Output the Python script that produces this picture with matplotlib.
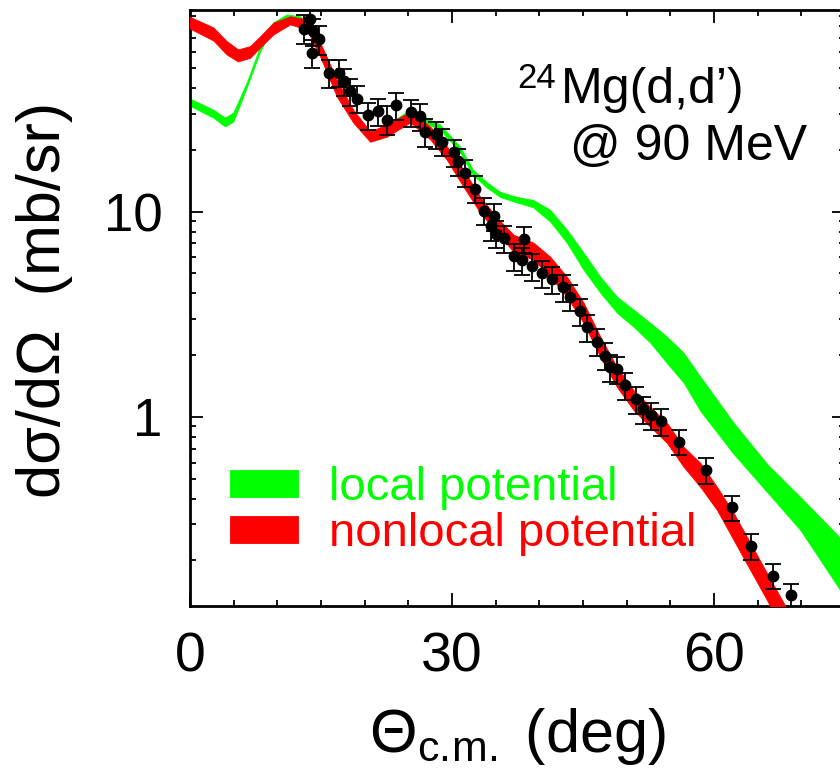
import matplotlib
matplotlib.use("Agg")
import matplotlib.pyplot as plt
from matplotlib import font_manager
import numpy as np

_names = {f.name for f in font_manager.fontManager.ttflist}
NARROW = 'Liberation Sans Narrow' if 'Liberation Sans Narrow' in _names else 'Liberation Sans'
HAVE_NARROW = NARROW == 'Liberation Sans Narrow'

plt.rcParams['font.family'] = ['Liberation Sans', 'DejaVu Sans']
plt.rcParams['mathtext.fontset'] = 'custom'
plt.rcParams['mathtext.rm'] = NARROW
plt.rcParams['mathtext.it'] = NARROW + ':italic'

# ---- experimental data ----
theta_exp = [13.1, 13.75, 14.0, 14.06, 14.8, 15.9, 17.1, 17.6, 18.3, 19.1,
             20.4, 21.5, 22.5, 23.6, 25.3, 26.3, 26.9, 28.2, 28.9, 30.2,
             30.7, 31.5, 32.6, 33.7, 34.5, 34.8, 35.0, 35.9, 37.05, 38.0,
             38.2, 39.15, 40.3, 41.4, 42.7, 43.5, 44.6, 45.5, 46.6, 47.55,
             48.1, 48.9, 49.8, 51.1, 51.85, 52.8, 53.9, 56.0, 59.1, 62.1,
             64.2, 66.8, 68.8]
xs_exp = [77.9, 87.1, 59.4, 75.8, 69.0, 47.5, 47.5, 43.2, 38.6, 35.5,
          29.5, 30.9, 28.1, 32.9, 30.5, 29.2, 24.5, 23.8, 21.9, 19.5,
          17.6, 15.5, 12.9, 10.1, 8.48, 9.49, 7.81, 7.42, 6.05, 5.79,
          7.36, 5.41, 5.02, 4.69, 4.29, 3.84, 3.28, 2.74, 2.33, 1.99,
          1.75, 1.71, 1.43, 1.22, 1.09, 1.02, 0.951, 0.758, 0.551, 0.363,
          0.235, 0.168, 0.135]
rel_err = [0.16, 0.15, 0.16, 0.15, 0.16, 0.16, 0.15, 0.15, 0.15, 0.15,
           0.15, 0.15, 0.16, 0.15, 0.15, 0.15, 0.16, 0.15, 0.15, 0.15,
           0.15, 0.15, 0.15, 0.15, 0.15, 0.15, 0.15, 0.15, 0.15, 0.15,
           0.15, 0.15, 0.15, 0.15, 0.15, 0.15, 0.15, 0.15, 0.15, 0.15,
           0.15, 0.15, 0.15, 0.15, 0.15, 0.15, 0.15, 0.14, 0.14, 0.14,
           0.14, 0.14, 0.14]

# ---- nonlocal potential band (red) ----
theta_nl = [0.0, 0.19, 2.67, 4.2, 5.5, 6.88, 8.02, 9.55, 11.46, 13.37,
            14.9, 16.81, 18.68, 20.63, 22.54, 25.21, 27.5, 29.41, 31.32, 33.23,
            35.14, 37.05, 39.34, 41.25, 43.16, 45.07, 46.98, 48.89, 50.8, 52.71,
            54.62, 56.53, 58.44, 60.35, 62.26, 64.17, 66.08, 67.98, 69.9, 75.0]
nl_hi = [89.0, 88.1, 79.0, 67.7, 61.7, 64.0, 71.4, 83.3, 89.4, 86.4,
         66.7, 44.0, 31.4, 24.6, 26.6, 30.7, 26.0, 20.8, 16.0, 11.8,
         9.35, 7.72, 7.06, 6.03, 4.82, 3.60, 2.46, 1.75, 1.35, 1.12,
         0.935, 0.714, 0.597, 0.456, 0.340, 0.243, 0.173, 0.124, 0.0864, 0.04]
nl_lo = [78.0, 77.2, 68.2, 58.3, 53.9, 56.2, 63.1, 73.0, 81.7, 77.2,
         57.0, 36.4, 27.2, 21.9, 23.2, 27.2, 22.5, 17.9, 13.2, 9.89,
         7.90, 6.38, 5.83, 4.82, 3.85, 2.87, 1.96, 1.40, 1.08, 0.894,
         0.747, 0.571, 0.456, 0.352, 0.251, 0.179, 0.128, 0.0884, 0.0617, 0.03]

# ---- local potential band (green) ----
theta_loc = [0.0, 0.19, 2.67, 4.01, 4.96, 6.5, 8.02, 9.55, 11.08, 12.6,
             13.37, 14.9, 16.81, 18.68, 20.63, 22.54, 25.21, 27.0, 28.6, 30.9,
             32.4, 34.0, 35.5, 37.4, 39.3, 41.25, 43.16, 45.07, 46.98, 48.89,
             50.8, 52.71, 54.62, 56.53, 58.44, 62.26, 66.08, 69.9, 74.48, 75.0]
loc_hi = [35.5, 35.2, 31.4, 28.7, 30.4, 42.6, 63.8, 83.6, 91.4, 89.4,
          84.0, 64.0, 42.0, 30.5, 24.0, 26.5, 31.4, 28.7, 26.6, 20.8,
          16.0, 13.9, 12.5, 11.8, 11.4, 10.2, 8.17, 6.31, 4.82, 3.85,
          3.33, 2.87, 2.46, 2.05, 1.57, 0.935, 0.590, 0.407, 0.257, 0.25]
loc_lo = [32.7, 32.5, 28.7, 26.0, 27.5, 40.3, 60.3, 79.9, 88.4, 86.4,
          79.0, 59.0, 38.0, 28.0, 22.5, 24.5, 29.4, 27.0, 25.1, 19.6,
          15.1, 13.1, 11.8, 11.1, 10.5, 8.94, 7.06, 5.21, 4.03, 3.22,
          2.75, 2.30, 1.83, 1.47, 1.07, 0.660, 0.431, 0.281, 0.143, 0.138]

labels = ["local potential", "nonlocal potential"]
GREEN = "#00ff00"
RED = "#ff0000"

fig = plt.figure(figsize=(8.4, 7.8), dpi=100)
ax = fig.add_axes([190 / 840, (780 - 606) / 780, 655 / 840, 596 / 780])

h_loc = ax.fill_between(theta_loc, loc_lo, loc_hi, color=GREEN, lw=0.6,
                        edgecolor=GREEN, label=labels[0], zorder=2)
h_nl = ax.fill_between(theta_nl, nl_lo, nl_hi, color=RED, lw=0.6,
                       edgecolor=RED, label=labels[1], zorder=3)

y = np.array(xs_exp)
e = np.array(rel_err) * y
ax.errorbar(theta_exp, xs_exp, yerr=e, fmt='o', color='black', ms=7.5,
            ecolor='black', elinewidth=1.3, capsize=5.5, capthick=1.3, zorder=5)

ax.set_yscale('log')
ax.set_xlim(0, 75)
ax.set_ylim(0.12, 96)

ax.set_xticks([0, 30, 60])
ax.set_xticks(np.arange(0, 76, 5), minor=True)
ax.set_yticks([1, 10])
ax.set_yticklabels(['1', '10'])
ax.yaxis.set_minor_formatter(matplotlib.ticker.NullFormatter())

ax.tick_params(which='both', direction='in', top=True, right=True, width=1.3)
ax.tick_params(which='major', length=9.5)
ax.tick_params(which='minor', length=4.5)
ax.tick_params(axis='y', which='major', labelsize=38, pad=20)
xt_size = 47 if HAVE_NARROW else 40
ax.tick_params(axis='x', which='major', labelsize=xt_size, pad=18)
for lab in ax.get_xticklabels():
    lab.set_fontfamily(NARROW)
for sp in ax.spines.values():
    sp.set_linewidth(2.0)

lab_size = 54 if HAVE_NARROW else 44
ax.set_ylabel('dσ/dΩ  (mb/sr)', fontsize=lab_size, family=NARROW)
ax.yaxis.set_label_coords(-0.179, 0.513)
ax.set_xlabel('Θ$_{\\rm c.\\!m.}$ (deg)', fontsize=lab_size, family=NARROW)
ax.xaxis.set_label_coords(0.5, -0.168)

# annotation
ax.text((517 - 190) / 655, (606 - 62) / 596, '24', fontsize=25,
        transform=ax.transAxes, ha='left', va='top')
ax.text((561 - 190) / 655, (606 - 103) / 596, 'Mg(d,d’)', fontsize=36,
        transform=ax.transAxes, ha='left', va='baseline')
ax.text((570 - 190) / 655, (606 - 160) / 596, '@ 90 MeV', fontsize=36,
        transform=ax.transAxes, ha='left', va='baseline')

ax.legend(handles=[h_loc, h_nl], labels=labels, loc='upper left',
          bbox_to_anchor=((230 - 190) / 655, (606 - 466) / 596),
          frameon=False, borderpad=0, borderaxespad=0, fontsize=34,
          handlelength=1.45, handleheight=0.5, handletextpad=0.64,
          labelspacing=0.05, labelcolor=[GREEN, RED])

fig.savefig('out.png', dpi=100)
